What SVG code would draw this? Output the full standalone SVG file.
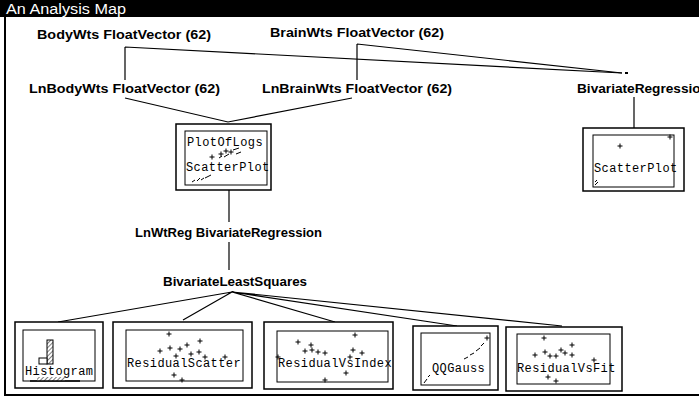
<svg xmlns="http://www.w3.org/2000/svg" width="699" height="399" viewBox="0 0 699 399">
<style>
.lbl{font-family:"Liberation Sans",Arial,sans-serif;font-weight:bold;font-size:12.5px;fill:#000}
.mono{font-family:"Liberation Mono","DejaVu Sans Mono",monospace;font-size:12px;fill:#000;letter-spacing:0.4px}
.outer{fill:#fff;stroke:#000;stroke-width:1.5}
.inner{fill:none;stroke:#000;stroke-width:1}
.conn{fill:none;stroke:#000;stroke-width:1.2}
.pt{fill:none;stroke:#000;stroke-width:1}
</style>
<defs>
<pattern id="hatch" width="3" height="3" patternUnits="userSpaceOnUse" patternTransform="rotate(45)">
<rect width="3" height="3" fill="#fff"/>
<line x1="0" y1="0" x2="0" y2="3" stroke="#000" stroke-width="1"/>
</pattern>
<path id="plus" d="M-2.5,0H2.5M0,-2.5V2.5" class="pt"/>
</defs>
<rect x="0" y="0" width="699" height="399" fill="#fff"/>
<g id="frame">
<rect x="0" y="0" width="699" height="17" fill="#000"/>
<text x="6" y="14" font-family="'Liberation Sans',Arial,sans-serif" font-size="14" fill="#fff" textLength="120" lengthAdjust="spacingAndGlyphs">An Analysis Map</text>
<path d="M5,17V395H699" fill="none" stroke="#000" stroke-width="2"/>
</g>
<g id="connectors">
<path class="conn" d="M125,47V80M125,47L622,73"/>
<path class="conn" d="M357,44V80M357,44L622,73"/>
<rect x="625" y="72" width="3" height="2" fill="#000"/>
<path class="conn" d="M125,98L228,122L352,98"/>
<path class="conn" d="M634,97V128"/>
<path class="conn" d="M229,190V222"/>
<path class="conn" d="M229,242V270"/>
<path class="conn" d="M232,292L58,322M232,292L183,320M232,292L335,322M232,292L457,326M232,292L562,326"/>
</g>
<g id="n-bodywts"><text class="lbl" x="37" y="39" textLength="174" lengthAdjust="spacingAndGlyphs">BodyWts FloatVector (62)</text></g>
<g id="n-brainwts"><text class="lbl" x="270" y="37" textLength="174" lengthAdjust="spacingAndGlyphs">BrainWts FloatVector (62)</text></g>
<g id="n-lnbodywts"><text class="lbl" x="29" y="93" textLength="191" lengthAdjust="spacingAndGlyphs">LnBodyWts FloatVector (62)</text></g>
<g id="n-lnbrainwts"><text class="lbl" x="262" y="93" textLength="190" lengthAdjust="spacingAndGlyphs">LnBrainWts FloatVector (62)</text></g>
<g id="n-bivreg"><text class="lbl" x="577" y="93" textLength="132" lengthAdjust="spacingAndGlyphs">BivariateRegression</text></g>
<g id="n-plotoflogs">
<rect class="outer" x="176" y="124" width="95" height="66"/>
<rect class="inner" x="185" y="131" width="82" height="54"/>
<text class="mono" x="187" y="146">PlotOfLogs</text>
<text class="mono" x="186" y="171">ScatterPlot</text>
<use href="#plus" x="212" y="157"/><use href="#plus" x="221" y="154"/><use href="#plus" x="226" y="151"/><use href="#plus" x="231" y="152"/>
<path class="pt" d="M219,158l3,-2M224,157l5,-3M233,150l6,-2M236,154l5,-2"/>
<path class="pt" d="M192,182l3,-2M197,181l3,-3M201,180l3,-2M205,178l6,-3"/>
</g>
<g id="n-scatterright">
<rect class="outer" x="583" y="128" width="101" height="63"/>
<rect class="inner" x="593" y="135" width="81" height="52"/>
<text class="mono" x="594" y="172">ScatterPlot</text>
<use href="#plus" x="620" y="146"/><use href="#plus" x="670" y="137"/>
<path class="pt" d="M595,182l2,-2M595,185l3,-3"/>
</g>
<g id="n-lnwtreg"><text class="lbl" x="135" y="237" textLength="187" lengthAdjust="spacingAndGlyphs">LnWtReg BivariateRegression</text></g>
<g id="n-bls"><text class="lbl" x="163" y="286" textLength="144" lengthAdjust="spacingAndGlyphs">BivariateLeastSquares</text></g>
<g id="n-histogram">
<rect class="outer" x="15" y="322" width="88" height="66"/>
<rect class="inner" x="23" y="330" width="72" height="51"/>
<rect x="47" y="340" width="6" height="24" fill="url(#hatch)" stroke="#000" stroke-width="1"/>
<rect x="39" y="358" width="8" height="6" fill="#fff" stroke="#000" stroke-width="1"/>
<text class="mono" x="25" y="375">Histogram</text>
<rect x="37" y="377" width="28" height="4" fill="url(#hatch)" stroke="none"/>
<path d="M30,381H80" stroke="#000" stroke-width="1.5"/>
</g>
<g id="n-residualscatter">
<rect class="outer" x="113" y="322" width="139" height="66"/>
<rect class="inner" x="126" y="330" width="117" height="51"/>
<text class="mono" x="127" y="367">ResidualScatter</text>
<use href="#plus" x="169" y="334"/><use href="#plus" x="160" y="351"/><use href="#plus" x="170" y="348"/><use href="#plus" x="180" y="349"/><use href="#plus" x="187" y="345"/><use href="#plus" x="191" y="354"/><use href="#plus" x="200" y="341"/><use href="#plus" x="199" y="352"/><use href="#plus" x="225" y="357"/><use href="#plus" x="174" y="375"/><use href="#plus" x="182" y="380"/><use href="#plus" x="176" y="356"/><use href="#plus" x="205" y="357"/>
</g>
<g id="n-residualvsindex">
<rect class="outer" x="264" y="322" width="129" height="67"/>
<rect class="inner" x="277" y="331" width="111" height="51"/>
<text class="mono" x="278" y="367">ResidualVsIndex</text>
<use href="#plus" x="298" y="342"/><use href="#plus" x="311" y="345"/><use href="#plus" x="305" y="351"/><use href="#plus" x="312" y="350"/><use href="#plus" x="318" y="352"/><use href="#plus" x="325" y="353"/><use href="#plus" x="355" y="335"/><use href="#plus" x="353" y="350"/><use href="#plus" x="362" y="353"/><use href="#plus" x="350" y="357"/><use href="#plus" x="278" y="357"/><use href="#plus" x="325" y="380"/><use href="#plus" x="346" y="373"/>
</g>
<g id="n-qqgauss">
<rect class="outer" x="413" y="326" width="85" height="64"/>
<rect class="inner" x="421" y="333" width="69" height="52"/>
<text class="mono" x="432" y="372">QQGauss</text>
<use href="#plus" x="487" y="338"/>
<path class="pt" d="M464,359l4,-2M470,355l4,-2M476,351l4,-3M481,346l3,-3M424,383l3,-4M428,377l2,-2"/>
</g>
<g id="n-residualvsfit">
<rect class="outer" x="506" y="327" width="116" height="64"/>
<rect class="inner" x="517" y="334" width="93" height="50"/>
<text class="mono" x="517" y="372">ResidualVsFit</text>
<use href="#plus" x="544" y="338"/><use href="#plus" x="535" y="355"/><use href="#plus" x="545" y="352"/><use href="#plus" x="550" y="356"/><use href="#plus" x="556" y="356"/><use href="#plus" x="561" y="350"/><use href="#plus" x="565" y="353"/><use href="#plus" x="572" y="345"/><use href="#plus" x="572" y="355"/><use href="#plus" x="594" y="360"/><use href="#plus" x="548" y="377"/><use href="#plus" x="556" y="381"/>
</g>
</svg>
